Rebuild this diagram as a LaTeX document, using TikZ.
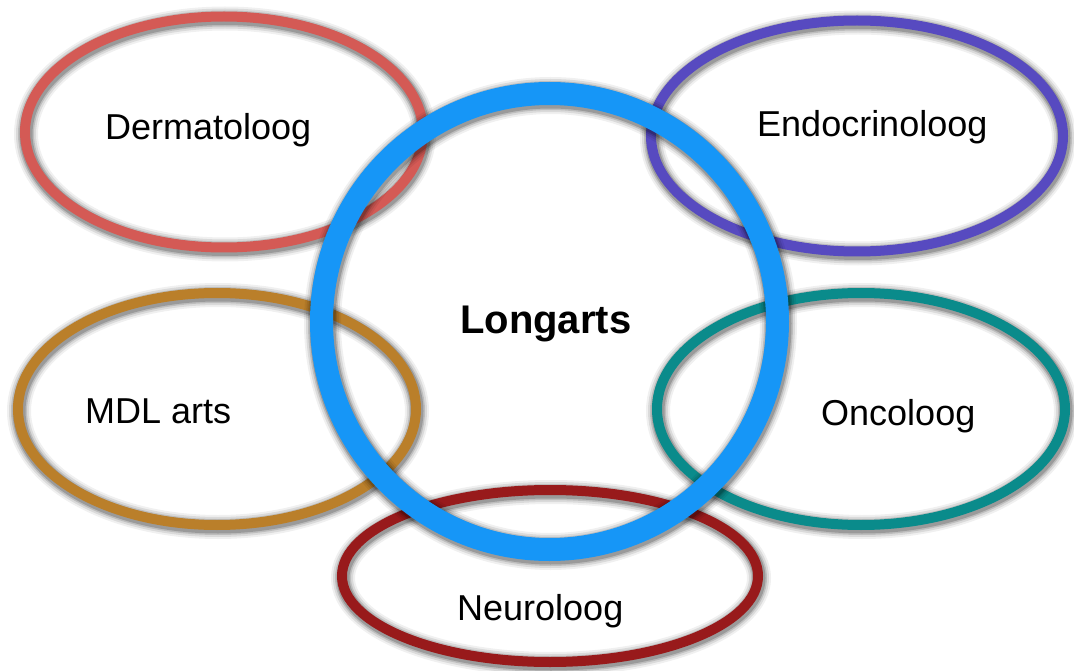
\documentclass[tikz,border=0pt]{standalone}
\usepackage{fontspec}
\setmainfont{Liberation Sans}
\definecolor{cDerm}{HTML}{D45A55}
\definecolor{cEndo}{HTML}{574AC0}
\definecolor{cMDL}{HTML}{BA7F2A}
\definecolor{cOnco}{HTML}{0A8B8B}
\definecolor{cNeuro}{HTML}{981A1B}
\definecolor{cLong}{HTML}{1696F7}
\tikzset{
  lbl/.style={anchor=base west, inner sep=0pt, font=\fontsize{36}{42}\selectfont},
  mainlbl/.style={anchor=base west, inner sep=0pt, font=\fontsize{40}{46}\selectfont\bfseries},
}
\newcommand{\ringshadow}[4]{% center name, rx, ry, width
  \foreach \w/\o in {14/0.06,10/0.09,6/0.13,3/0.18}{
    \draw[black, opacity=\o, line width=#4+\w] ([shift={(1,2)}]#1) ellipse [x radius=#2, y radius=#3];
  }
}
\begin{document}
\begin{tikzpicture}[x=1pt,y=-1pt]
\useasboundingbox[fill=white] (0,0) rectangle (1074,671);
\coordinate (derm) at (224,132);
\coordinate (endo) at (857,136);
\coordinate (mdl) at (217,409);
\coordinate (onco) at (861,409);
\coordinate (neuro) at (550,576);
\coordinate (long) at (549.5,321.5);
% rings
\ringshadow{derm}{199}{115.5}{10}
\draw[cDerm, line width=10] (derm) ellipse [x radius=199, y radius=115.5];
\ringshadow{endo}{206}{115.5}{10}
\draw[cEndo, line width=10] (endo) ellipse [x radius=206, y radius=115.5];
\ringshadow{mdl}{199}{116}{10}
\draw[cMDL, line width=10] (mdl) ellipse [x radius=199, y radius=116];
\ringshadow{onco}{204}{116}{10}
\draw[cOnco, line width=10] (onco) ellipse [x radius=204, y radius=116];
\ringshadow{neuro}{208}{86}{10}
\draw[cNeuro, line width=10] (neuro) ellipse [x radius=208, y radius=86];
\ringshadow{long}{228}{228}{23}
\draw[cLong, line width=23] (long) ellipse [x radius=228, y radius=228];
% labels
\node[lbl] (tderm) at (105,140) {Dermatoloog};
\node[lbl] (tendo) at (757,137) {Endocrinoloog};
\node[lbl] (tmdl) at (85,423) {MDL arts};
\node[lbl] (tonco) at (821,425) {Oncoloog};
\node[lbl] (tneuro) at (457,620) {Neuroloog};
\node[mainlbl] (tlong) at (460,333) {Longarts};
\end{tikzpicture}
\end{document}
